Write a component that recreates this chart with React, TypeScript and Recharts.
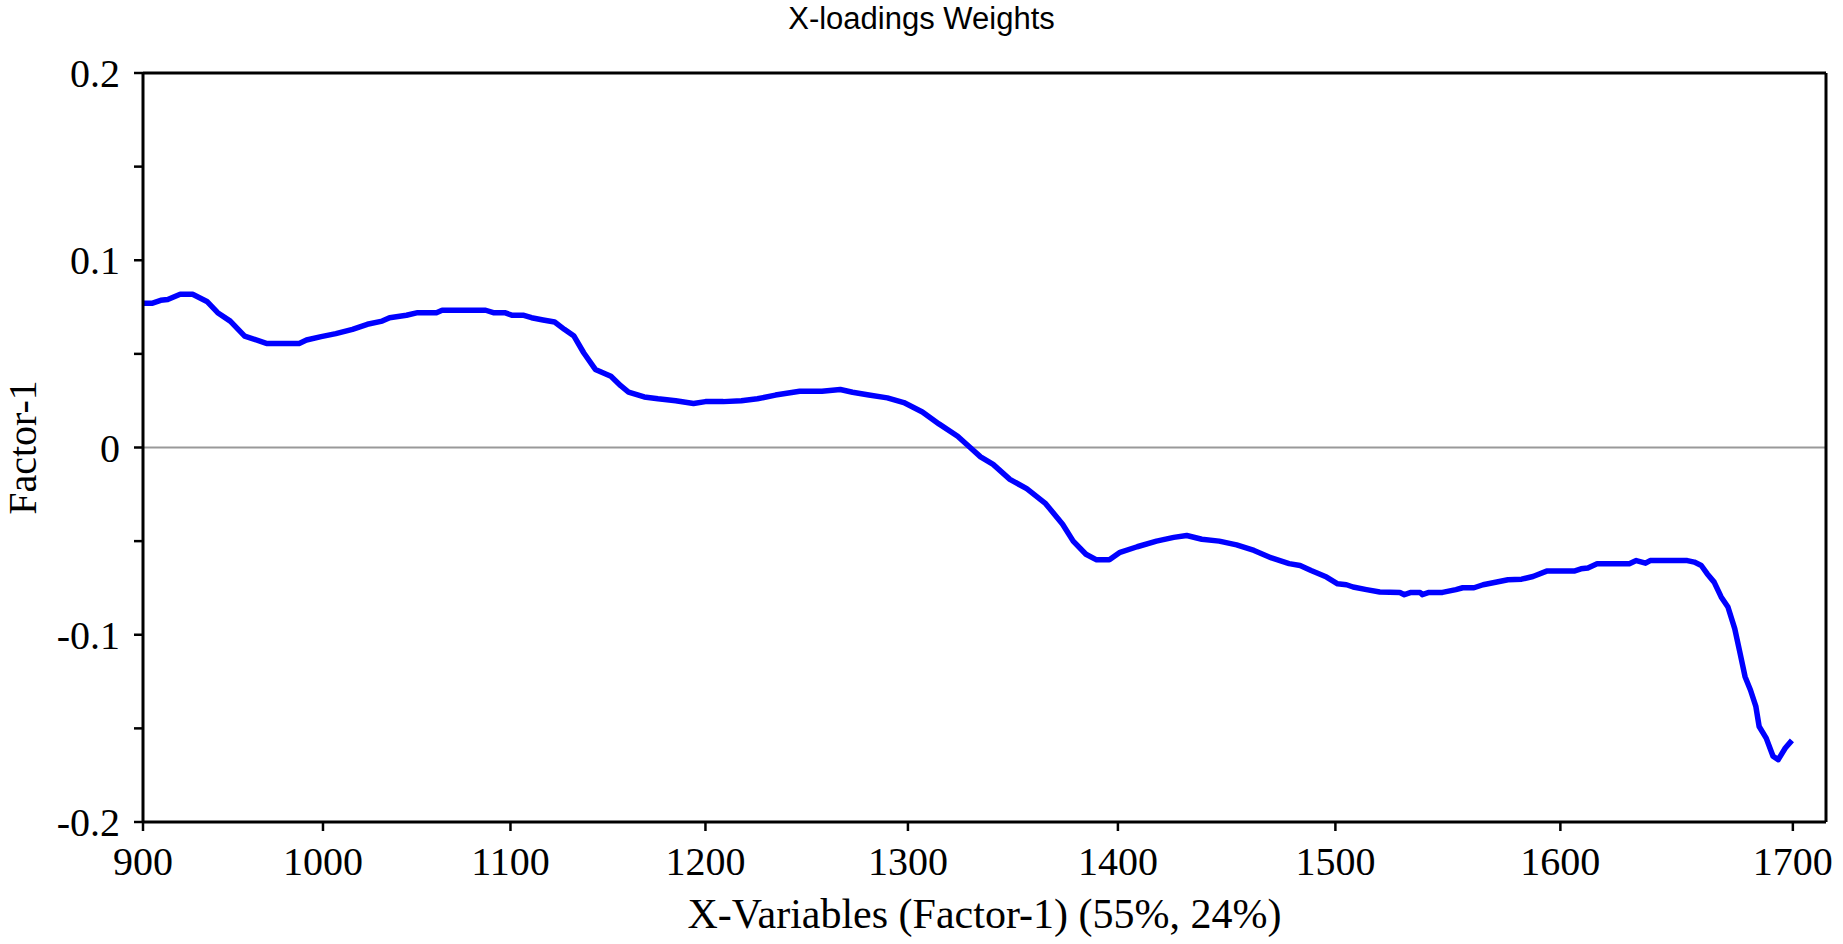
import React from 'react';
import { LineChart, Line, XAxis, YAxis, ReferenceLine, Label } from 'recharts';

// wavelengths (nm) of the traced points and the Factor-1 loading weight at each
const WAVELENGTH = [
    900, 905, 910, 914, 921, 928, 936, 942, 949, 957, 969, 987, 991, 999, 1007, 1016, 1024, 1032,
    1036, 1045, 1051, 1061, 1064, 1087, 1091, 1097, 1101, 1107, 1111, 1117, 1123, 1128, 1133, 1138,
    1144, 1152, 1157, 1161, 1169, 1176, 1185, 1194, 1200, 1209, 1218, 1226, 1235, 1247, 1258, 1267,
    1273, 1281, 1290, 1298, 1307, 1315, 1324, 1330, 1335, 1341, 1349, 1357, 1366, 1374, 1379, 1385,
    1390, 1396, 1401, 1409, 1418, 1426, 1432, 1439, 1447, 1455, 1463, 1471, 1479, 1484, 1489, 1496,
    1501, 1505, 1508, 1514, 1520, 1529, 1531, 1534, 1538, 1539, 1542, 1548, 1554, 1557, 1562, 1566,
    1571, 1577, 1583, 1588, 1594, 1606, 1609, 1612, 1616, 1630, 1633, 1637, 1639, 1655, 1658, 1661,
    1663.5, 1666.5, 1669.5, 1672.4, 1675.3, 1677.6, 1679.7, 1682, 1684.3, 1685.7, 1688.7, 1691.6,
    1693.8, 1696.8, 1699.6,
];

const FACTOR_1 = [
    0.077, 0.077, 0.0786, 0.079, 0.0818, 0.0818, 0.078, 0.072, 0.0675, 0.0595, 0.0556, 0.0556, 0.0574,
    0.0592, 0.0608, 0.0631, 0.0658, 0.0675, 0.0693, 0.0706, 0.072, 0.072, 0.0733, 0.0733, 0.072, 0.072,
    0.0706, 0.0706, 0.0693, 0.0681, 0.067, 0.0631, 0.0595, 0.0506, 0.0417, 0.038, 0.033, 0.0296, 0.027,
    0.026, 0.025, 0.0235, 0.0245, 0.0245, 0.025, 0.026, 0.028, 0.03, 0.03, 0.031, 0.0295, 0.028, 0.0265,
    0.024, 0.019, 0.0126, 0.006, 0.0, -0.005, -0.009, -0.017, -0.022, -0.03, -0.041, -0.05, -0.057,
    -0.06, -0.06, -0.056, -0.053, -0.05, -0.048, -0.047, -0.049, -0.05, -0.052, -0.055, -0.059, -0.062,
    -0.063, -0.0657, -0.0692, -0.0728, -0.0733, -0.0745, -0.0759, -0.0772, -0.0774, -0.0786, -0.0774,
    -0.0774, -0.0786, -0.0774, -0.0774, -0.0759, -0.0749, -0.0749, -0.0733, -0.0721, -0.0706, -0.0703,
    -0.0689, -0.066, -0.066, -0.0648, -0.0643, -0.0621, -0.0621, -0.0604, -0.0618, -0.0604, -0.0604,
    -0.0612, -0.063, -0.0674, -0.0719, -0.0798, -0.0852, -0.0967, -0.11, -0.1224, -0.1295, -0.1383,
    -0.149, -0.1552, -0.1649, -0.1667, -0.1605, -0.1564,
];

const X_TICKS = [900, 1000, 1100, 1200, 1300, 1400, 1500, 1600, 1700];
const Y_TICKS = [-0.2, -0.15, -0.1, -0.05, 0, 0.05, 0.1, 0.15, 0.2];
const X_END = 1714;

// variables are plotted by index, and the nm spacing per variable shrinks with wavelength,
// so the wavelength ticks drift apart towards the right
const toAxis = (nm: number) => {
    const t = (nm - 900) / 100;
    return 176.25 * t + 3.75 * t * t;
};

const data = WAVELENGTH.map((nm, i) => ({ nm, pos: toAxis(nm), weight: FACTOR_1[i] }));

const serif = '"Liberation Serif", "Times New Roman", serif';

const xLabel = (v: number) => {
    const nm = X_TICKS.find(n => Math.abs(toAxis(n) - v) < 0.01);
    return nm === undefined ? '' : String(nm);
};

const yLabel = (v: number) => {
    const r = Math.round(v * 100);
    if (r % 10 !== 0) return '';
    return r === 0 ? '0' : (r / 100).toFixed(1);
};

export default function App() {
    return (
        <div style={{ position: 'absolute', left: 0, top: 0, width: 1843, height: 944, background: '#fff' }}>
            <div
                style={{
                    position: 'absolute', left: 0, top: 1, width: 1843, textAlign: 'center',
                    fontFamily: '"Liberation Sans", Arial, sans-serif', fontSize: 31, color: '#000',
                }}
            >
                X-loadings Weights
            </div>
            <LineChart width={1843} height={944} data={data} margin={{ top: 73, right: 17, bottom: 0, left: 0 }}>
                <XAxis
                    type="number"
                    dataKey="pos"
                    domain={[0, toAxis(X_END)]}
                    ticks={X_TICKS.map(toAxis)}
                    interval={0}
                    tickFormatter={xLabel}
                    height={122}
                    tickSize={9}
                    tickMargin={16}
                    axisLine={{ stroke: '#000', strokeWidth: 3 }}
                    tickLine={{ stroke: '#000', strokeWidth: 2.5 }}
                    tick={{ fill: '#000', fontSize: 40, fontFamily: serif }}
                >
                    <Label
                        value="X-Variables (Factor-1) (55%, 24%)"
                        position="insideBottom"
                        offset={16}
                        style={{ fill: '#000', fontSize: 42, fontFamily: serif }}
                    />
                </XAxis>
                <YAxis
                    type="number"
                    domain={[-0.2, 0.2]}
                    ticks={Y_TICKS}
                    interval={0}
                    tickFormatter={yLabel}
                    width={143}
                    tickSize={9}
                    tickMargin={14}
                    axisLine={{ stroke: '#000', strokeWidth: 3 }}
                    tickLine={{ stroke: '#000', strokeWidth: 2.5 }}
                    tick={{ fill: '#000', fontSize: 40, fontFamily: serif }}
                >
                    <Label
                        value="Factor-1"
                        angle={-90}
                        position="insideLeft"
                        offset={22}
                        textAnchor="middle"
                        style={{ fill: '#000', fontSize: 40, fontFamily: serif, textAnchor: 'middle' }}
                    />
                </YAxis>
                <ReferenceLine y={0} stroke="#999" strokeWidth={2} />
                <ReferenceLine y={0.2} stroke="#000" strokeWidth={3} />
                <ReferenceLine x={toAxis(X_END)} stroke="#000" strokeWidth={3} />
                <Line
                    type="linear"
                    dataKey="weight"
                    stroke="#0000ff"
                    strokeWidth={5.5}
                    strokeLinejoin="round"
                    dot={false}
                    activeDot={false}
                    isAnimationActive={false}
                />
            </LineChart>
        </div>
    );
}
